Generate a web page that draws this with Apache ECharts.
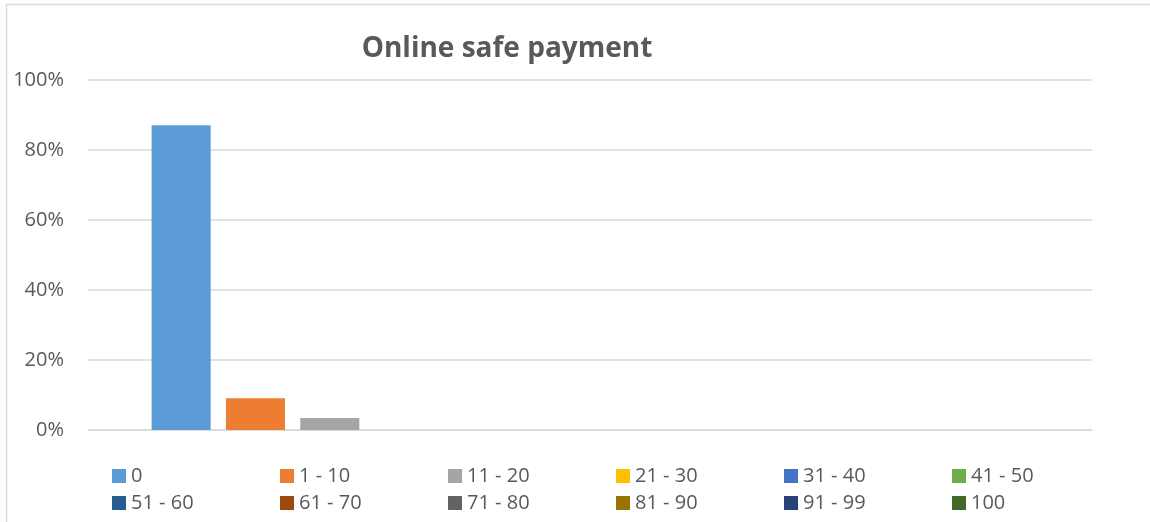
<!DOCTYPE html>
<html>
<head>
<meta charset="utf-8">
<script src="https://cdn.jsdelivr.net/npm/echarts@6/dist/echarts.min.js"></script>
<style>
  html, body { margin: 0; padding: 0; background: #fff; }
  #main { width: 1150px; height: 522px; }
</style>
</head>
<body>
<div id="main"></div>
<script>
const categories = ['Online safe payment']
const seriesNames = ['0', '1 - 10', '11 - 20', '21 - 30', '31 - 40', '41 - 50',
  '51 - 60', '61 - 70', '71 - 80', '81 - 90', '91 - 99', '100']
const seriesValues = [0.871, 0.091, 0.034, 0, 0, 0, 0, 0, 0, 0, 0, 0]
const colors = ['#5B9BD5', '#ED7D31', '#A5A5A5', '#FFC000', '#4472C4', '#70AD47',
  '#255E91', '#9E480E', '#636363', '#997300', '#264478', '#43682B']
const yTicks = { min: 0, max: 1, interval: 0.2 }

const textColor = '#595959'
const font = 'Open Sans'

const chart = echarts.init(document.getElementById('main'))

chart.setOption({
  animation: false,
  color: colors,
  title: {
    text: 'Online safe payment',
    left: 507,
    textAlign: 'center',
    top: 35,
    padding: 0,
    textStyle: { fontFamily: font, fontSize: 28, fontWeight: 'bold', color: textColor }
  },
  // chart area border
  graphic: [{
    type: 'rect',
    shape: { x: 6.5, y: 4.5, width: 1300, height: 700 },
    style: { fill: 'none', stroke: '#D9D9D9', lineWidth: 1.5 },
    silent: true
  }],
  legend: {
    left: 112,
    top: 466,
    width: 1010,
    padding: 0,
    itemWidth: 14,
    itemHeight: 14,
    itemGap: 7,
    icon: 'rect',
    textStyle: {
      fontFamily: font, fontSize: 20, color: textColor,
      width: 142, lineHeight: 15
    },
    data: seriesNames
  },
  grid: { left: 88, right: 58, top: 80, bottom: 92, containLabel: false },
  xAxis: {
    type: 'category',
    data: categories,
    axisLine: { lineStyle: { color: '#D9D9D9', width: 1.5 } },
    axisTick: { show: false },
    axisLabel: { show: false }
  },
  yAxis: {
    type: 'value',
    min: yTicks.min,
    max: yTicks.max,
    interval: yTicks.interval,
    axisLine: { show: false },
    axisTick: { show: false },
    axisLabel: {
      margin: 24,
      fontFamily: font, fontSize: 20, color: textColor,
      formatter: v => Math.round(v * 100) + '%'
    },
    splitLine: { lineStyle: { color: '#D9D9D9', width: 1.5 } }
  },
  series: seriesNames.map((name, i) => ({
    name,
    type: 'bar',
    barWidth: 59,
    barGap: '26%',
    data: [seriesValues[i]]
  }))
})
</script>
</body>
</html>
